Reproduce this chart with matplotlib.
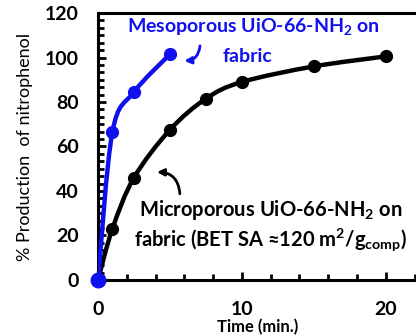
import numpy as np
import matplotlib.pyplot as plt
from matplotlib.path import Path
from matplotlib.patches import PathPatch
from matplotlib.ticker import MultipleLocator

# data
t_meso = [0, 1, 2.5, 5]
y_meso = [0, 66.5, 84.5, 101.5]
t_micro = [0, 1, 2.5, 5, 7.5, 10, 15, 20]
y_micro = [0, 23, 46, 67.5, 81.5, 89, 96, 100.5]

BLUE = '#1010ee'

plt.rcParams['font.family'] = ['Lato', 'DejaVu Sans']
plt.rcParams['mathtext.fontset'] = 'custom'
plt.rcParams['mathtext.rm'] = 'Lato'
plt.rcParams['mathtext.bf'] = 'Lato:bold'


def smooth_path(x, y):
    # excel-style smoothed line (catmull-rom as cubic bezier)
    p = np.column_stack([x, y]).astype(float)
    verts = [p[0]]
    codes = [Path.MOVETO]
    n = len(p)
    for i in range(n - 1):
        p0 = p[i - 1] if i > 0 else p[i]
        p1, p2 = p[i], p[i + 1]
        p3 = p[i + 2] if i + 2 < n else p[i + 1]
        c1 = p1 + (p2 - p0) / 6
        c2 = p2 - (p3 - p1) / 6
        verts += [c1, c2, p2]
        codes += [Path.CURVE4] * 3
    return Path(verts, codes)


fig = plt.figure(figsize=(4.16, 3.36), dpi=100)
ax = fig.add_axes([0.2356, 0.1667, 0.768, 0.7946])

for x, y, c in [(t_micro, y_micro, 'black'), (t_meso, y_meso, BLUE)]:
    ax.add_patch(PathPatch(smooth_path(x, y), fill=False, edgecolor=c, lw=3.2,
                           capstyle='round', zorder=3))
    ax.plot(x, y, 'o', color=c, ms=8.5, zorder=4, clip_on=False)
# first blue point is drawn a little larger in the original
ax.plot(t_meso[:1], y_meso[:1], 'o', color=BLUE, ms=10.5, zorder=5, clip_on=False)

ax.set_xlim(0, 22.2)
ax.set_ylim(0, 120)
ax.xaxis.set_major_locator(MultipleLocator(10))
ax.xaxis.set_minor_locator(MultipleLocator(2))
ax.yaxis.set_major_locator(MultipleLocator(20))
ax.yaxis.set_minor_locator(MultipleLocator(20 / 6))

for s in ['left', 'bottom', 'top']:
    ax.spines[s].set_linewidth(2.2)
ax.spines['right'].set_visible(False)

ax.tick_params(which='both', direction='in', width=2, top=False, right=False)
ax.tick_params(which='major', length=6)
ax.tick_params(which='minor', length=4)
ax.tick_params(axis='x', which='major', pad=15, labelsize=14)
ax.tick_params(axis='y', which='major', pad=14, labelsize=14)
for lab in ax.get_xticklabels() + ax.get_yticklabels():
    lab.set_fontweight('bold')

ax.set_xlabel('Time (min.)', fontsize=12, fontweight='bold', labelpad=1)
ax.set_ylabel('% Production  of nitrophenol', fontsize=13, labelpad=8)

ax.text(10.8, 113.5, 'Mesoporous UiO-66-NH$_\\mathbf{2}$ on', color=BLUE,
        fontsize=14, fontweight='bold', ha='center', va='center')
ax.text(10.4, 100.5, 'fabric', color=BLUE,
        fontsize=14, fontweight='bold', ha='center', va='center')
ax.text(12.0, 31.5, 'Microporous UiO-66-NH$_\\mathbf{2}$ on',
        color='black', fontsize=14.5, fontweight='bold', ha='center', va='center')
ax.text(12.0, 18, 'fabric (BET SA \u2248120 m$^\\mathbf{2}$/g$_\\mathbf{comp}$)',
        color='black', fontsize=14.5, fontweight='bold', ha='center', va='center')

ax.annotate('', xy=(5.8, 98.5), xytext=(7.1, 106.5),
            arrowprops=dict(arrowstyle='-|>', color=BLUE, lw=2,
                            connectionstyle='arc3,rad=-0.5', mutation_scale=10))
ax.annotate('', xy=(3.9, 48.5), xytext=(5.7, 37.5),
            arrowprops=dict(arrowstyle='-|>', color='black', lw=2,
                            connectionstyle='arc3,rad=0.5', mutation_scale=10))

fig.savefig('out.png', dpi=100)
